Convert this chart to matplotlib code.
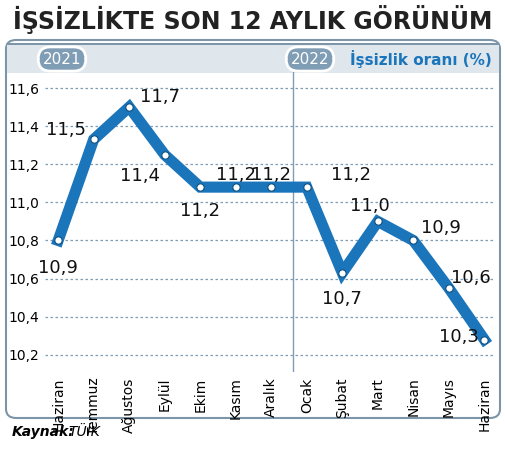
import matplotlib
matplotlib.use("Agg")
import matplotlib.pyplot as plt
from matplotlib.patches import FancyBboxPatch, Rectangle

months = ["Haziran","Temmuz","Ağustos","Eylül","Ekim","Kasım","Aralık","Ocak","Şubat","Mart","Nisan","Mayıs","Haziran"]
values = [10.8, 11.33, 11.5, 11.25, 11.08, 11.08, 11.08, 11.08, 10.63, 10.9, 10.8, 10.55, 10.28]
labels = ["10,9","11,5","11,7","11,4","11,2","11,2","11,2","11,2","10,7","11,0","10,9","10,6","10,3"]
yticks = [10.2, 10.4, 10.6, 10.8, 11.0, 11.2, 11.4, 11.6]

offs = [(0,-20),(-20,7),(22,7),(-18,-15),(0,-17),(0,9),(0,9),(32,9),(0,-19),(-6,11),(20,9),(16,7),(-18,2)]
fam = ["Liberation Sans Narrow", "DejaVu Sans"]
blue = "#1b75bb"

fig = plt.figure(figsize=(5.06, 4.49), dpi=100)
W, H = 506, 449
def fx(x): return x / W
def fy(y): return 1 - y / H

fig.patches.append(FancyBboxPatch((fx(6), fy(418)), fx(494), 378/H, boxstyle="round,pad=0,rounding_size=0.02",
                                  transform=fig.transFigure, fc="white", ec="#7d95a8", lw=1.5, zorder=-5))
fig.patches.append(Rectangle((fx(7), fy(73)), fx(492), 30/H, transform=fig.transFigure, fc="#dfe6ec", ec="none", zorder=-4))
fig.patches.append(Rectangle((fx(7), fy(45)), fx(492), 2/H, transform=fig.transFigure, fc="#7d95a8", ec="none", zorder=-4))

fig.text(0.5, fy(20), "İŞSİZLİKTE SON 12 AYLIK GÖRÜNÜM", ha="center", va="center", fontsize=17, fontweight="bold",
         family=fam, color="#222222")
for x, t in [(62, "2021"), (310, "2022")]:
    fig.text(fx(x), fy(59), t, ha="center", va="center", fontsize=11, color="white", family=fam,
             bbox=dict(boxstyle="round,pad=0.3,rounding_size=0.8", fc="#7f9db5", ec="white", lw=2))
fig.text(fx(492), fy(59), "İşsizlik oranı (%)", ha="right", va="center", fontsize=11, fontweight="bold",
         color=blue, family=fam)
fig.text(fx(12), fy(432), "Kaynak:", ha="left", va="center", fontsize=10, fontweight="bold", style="italic", family=fam)
fig.text(fx(68), fy(432), "TÜİK", ha="left", va="center", fontsize=10, style="italic", family=fam)

ax = fig.add_axes([fx(45), fy(372), 450/W, 300/H])
ax.set_zorder(5)
ax.set_facecolor("none")
x = list(range(len(months)))
ax.set_xlim(-0.37, 12.3)
ax.set_ylim(10.11, 11.684)
for s in ax.spines.values():
    s.set_visible(False)
ax.set_yticks(yticks)
ax.set_yticklabels([f"{v:.1f}".replace(".", ",") for v in yticks], family=fam, fontsize=10)
ax.set_xticks(x)
ax.set_xticklabels(months, rotation=90, family=fam, fontsize=10)
ax.tick_params(length=0, pad=4)
ax.grid(axis="y", ls=(0, (2, 2)), color="#7f9db5", lw=0.9)
ax.axvline(6.6, color="#7f9db5", lw=1)
ax.plot(x, values, color=blue, lw=8, solid_joinstyle="miter", zorder=3)
ax.scatter(x, values, s=28, facecolor="white", edgecolor="#0d4f80", lw=0.8, zorder=4)
for xi, v, l, o in zip(x, values, labels, offs):
    ax.annotate(l, (xi, v), xytext=o, textcoords="offset points", ha="center", va="center",
                fontsize=13, family=fam, color="#111111", zorder=5)
fig.savefig("out.png", dpi=100)
